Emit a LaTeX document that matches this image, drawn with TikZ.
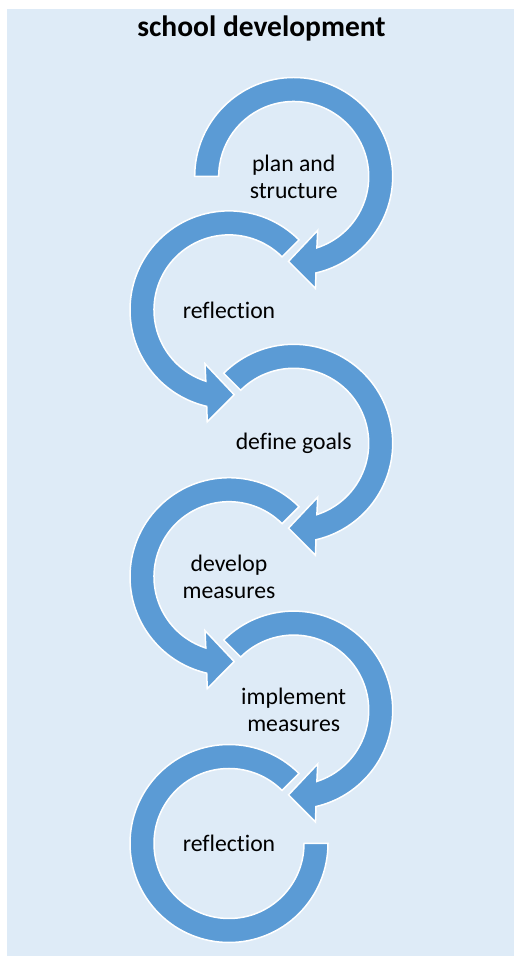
\documentclass[tikz,border=0pt]{standalone}
\usepackage{fontspec}
\setmainfont{Carlito}[Ligatures=NoCommon]
\definecolor{bandblue}{HTML}{5B9BD5}
\definecolor{panelblue}{HTML}{DEEBF7}
\newcommand{\rightloop}[2]{%
  \begin{scope}[shift={(#1)}]
    \draw[band] (#2:99pt) arc[start angle=#2, end angle=-77, radius=99pt]
      -- (-79:114pt) -- (-93.5:85pt) -- (-66:59pt) -- (-72:75pt)
      arc[start angle=-72, end angle=#2, radius=75pt] -- cycle;
  \end{scope}}
\newcommand{\leftloop}[2]{%
  \begin{scope}[shift={(#1)}]
    \draw[band] (#2:99pt) arc[start angle=#2, end angle=257, radius=99pt]
      -- (259:114pt) -- (273.5:85pt) -- (246:59pt) -- (252:75pt)
      arc[start angle=252, end angle=#2, radius=75pt] -- cycle;
  \end{scope}}
\begin{document}
\begin{tikzpicture}[x=1pt,y=1pt,
  band/.style={fill=bandblue, draw=white, line width=1.5pt, line join=miter},
  lbl/.style={font=\fontsize{23.7}{27}\selectfont, align=center, text=black},
  ttl/.style={font=\fontsize{29.5}{33}\selectfont\bfseries, text=black, anchor=base}]
\useasboundingbox (0,0) rectangle (514,956);
\fill[white] (0,0) rectangle (514,956);
\fill[panelblue] (7,0) rectangle (514,947);
\coordinate (c1) at (293.7,779.5);
\coordinate (c2) at (229,646.1);
\coordinate (c3) at (293.7,512.7);
\coordinate (c4) at (229,379.3);
\coordinate (c5) at (293.7,245.9);
\coordinate (c6) at (229,112.5);
\rightloop{c1}{180}
\leftloop{c2}{45}
\rightloop{c3}{135}
\leftloop{c4}{45}
\rightloop{c5}{135}
\begin{scope}[shift={(c6)}]
  \draw[band] (45:99pt) arc[start angle=45, end angle=360, radius=99pt]
    -- (0:75pt) arc[start angle=360, end angle=45, radius=75pt] -- cycle;
\end{scope}
\node[ttl] (title) at (261.5,919.5) {school development};
\node[lbl] (l1) at (c1) {plan and\\structure};
\node[lbl] (l2) at (c2) {reflection};
\node[lbl] (l3) at (c3) {define goals};
\node[lbl] (l4) at (c4) {develop\\measures};
\node[lbl] (l5) at (c5) {implement\\measures};
\node[lbl] (l6) at (c6) {reflection};
\end{tikzpicture}
\end{document}
